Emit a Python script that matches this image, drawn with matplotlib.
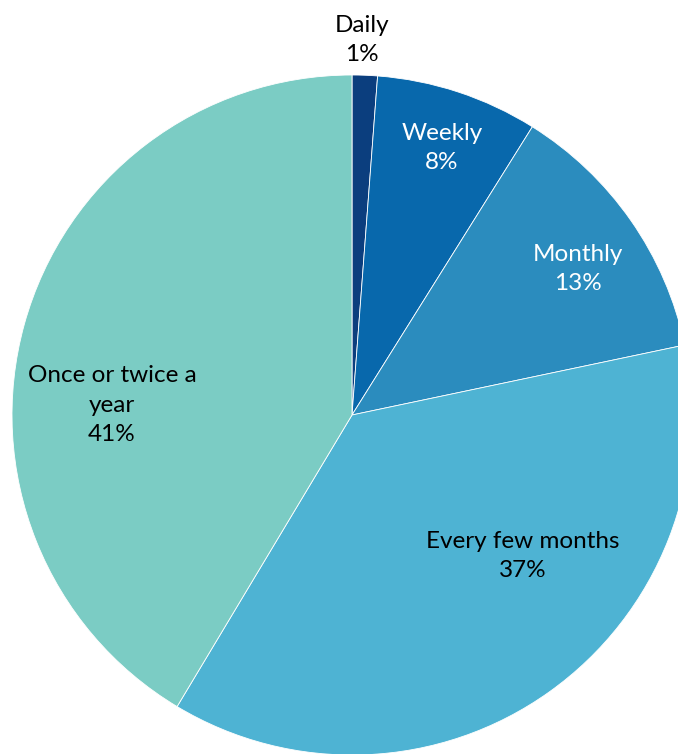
import matplotlib
matplotlib.use("Agg")
import matplotlib.pyplot as plt

# share of respondents by frequency
categories = ["Daily", "Weekly", "Monthly", "Every few months", "Once or twice a\nyear"]
shares = [1.2, 7.7, 12.8, 36.9, 41.4]
pct_labels = ["1%", "8%", "13%", "37%", "41%"]
colors = ["#0b3e7e", "#0868ac", "#2b8cbe", "#4eb3d3", "#7bccc4"]
text_colors = ["black", "white", "white", "black", "black"]
# label centres in pie units (radius = 1)
label_xy = [(0.029, 1.103), (0.265, 0.785), (0.665, 0.429), (0.503, -0.415), (-0.706, 0.029)]

plt.rcParams["font.family"] = ["Lato", "DejaVu Sans"]

fig = plt.figure(figsize=(6.78, 7.54), dpi=100)
W, H = 678, 754
cx, cy, R = 352, 415, 340
ax = fig.add_axes([(cx - R) / W, (H - cy - R) / H, 2 * R / W, 2 * R / H])

ax.pie(shares, colors=colors, startangle=90, counterclock=False, radius=1,
       wedgeprops=dict(edgecolor="white", linewidth=0.6))
ax.set_xlim(-1, 1)
ax.set_ylim(-1, 1)
ax.set_aspect("equal")
ax.axis("off")

for cat, pct, (x, y), tc in zip(categories, pct_labels, label_xy, text_colors):
    ax.text(x, y, cat + "\n" + pct, ha="center", va="center", color=tc,
            fontsize=17.5, linespacing=1.5, clip_on=False)

fig.savefig("out.png", dpi=100)
